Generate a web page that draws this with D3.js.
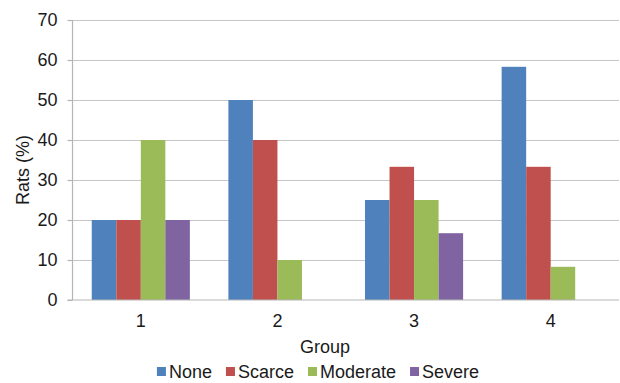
<!DOCTYPE html>
<html>
<head>
<meta charset="utf-8">
<script src="https://cdn.jsdelivr.net/npm/d3@7"></script>
<style>
  body { margin: 0; background: #fff; }
  svg { display: block; font-family: "Liberation Sans", Arial, Helvetica, sans-serif; }
</style>
</head>
<body>
<svg id="chart" width="620" height="383"></svg>
<script>
const groups = ["1", "2", "3", "4"];
const seriesNames = ["None", "Scarce", "Moderate", "Severe"];
const seriesColors = ["#4f81bd", "#c0504d", "#9bbb59", "#8064a2"];
const noneVals = [20, 50, 25, 58.3];
const scarceVals = [20, 40, 33.3, 33.3];
const moderateVals = [40, 10, 25, 8.3];
const severeVals = [20, 0, 16.7, 0];
const yTicks = [0, 10, 20, 30, 40, 50, 60, 70];
const xTitle = "Group";
const yTitle = "Rats (%)";

(function () {
const seriesValues = [noneVals, scarceVals, moderateVals, severeVals];
const data = groups.map((g, i) => ({
  group: g,
  values: seriesNames.map((s, j) => ({ series: s, value: seriesValues[j][i], color: seriesColors[j] }))
}));

const svg = d3.select("#chart");
const mLeft = 72.5, mRight = 619, mTop = 20, mBottom = 300;
const fs = 18, txt = "#1a1a1a";

const x = d3.scaleBand().domain(groups).range([mLeft, mRight]).paddingInner(0.282).paddingOuter(0.141);
const xs = d3.scaleBand().domain(seriesNames).range([0, x.bandwidth()]);
const y = d3.scaleLinear().domain([0, 70]).range([mBottom, mTop]);

// gridlines
svg.append("g").selectAll("line").data(yTicks.filter(d => d > 0)).join("line")
  .attr("x1", mLeft).attr("x2", mRight)
  .attr("y1", d => Math.round(y(d)) + 0.5).attr("y2", d => Math.round(y(d)) + 0.5)
  .attr("stroke", "#c6c6c6").attr("stroke-width", 1.2);

// bars
const gGroups = svg.append("g").selectAll("g").data(data).join("g")
  .attr("transform", d => `translate(${x(d.group)},0)`);
gGroups.selectAll("rect").data(d => d.values.filter(v => v.value > 0)).join("rect")
  .attr("x", d => xs(d.series))
  .attr("width", xs.bandwidth())
  .attr("y", d => y(d.value))
  .attr("height", d => y(0) - y(d.value))
  .attr("fill", d => d.color);

// y axis
const yAxis = d3.axisLeft(y).tickValues(yTicks).tickSize(5).tickPadding(10);
const ya = svg.append("g").attr("transform", `translate(${mLeft},0)`).call(yAxis);
ya.select(".domain").attr("stroke", "#b5b5b5").attr("stroke-width", 1.2).attr("d", `M0,${mTop}V${mBottom}`);
ya.selectAll(".tick line").attr("stroke", "#b5b5b5").attr("stroke-width", 1.2);
ya.selectAll(".tick text").attr("font-size", fs).attr("fill", txt).attr("font-family", "Liberation Sans, Arial, sans-serif");

// x axis
const xAxis = d3.axisBottom(x).tickSize(0).tickPadding(14);
const xa = svg.append("g").attr("transform", `translate(0,${mBottom})`).call(xAxis);
xa.select(".domain").attr("stroke", "#b5b5b5").attr("stroke-width", 1.2).attr("d", `M${mLeft - 5},0H${mRight}`);
xa.selectAll(".tick text").attr("font-size", fs).attr("fill", txt).attr("font-family", "Liberation Sans, Arial, sans-serif");

// axis titles
svg.append("text").attr("x", 325).attr("y", 353).attr("text-anchor", "middle")
  .attr("font-size", fs).attr("fill", txt).text(xTitle);
svg.append("text").attr("transform", "translate(29,170) rotate(-90)").attr("text-anchor", "middle")
  .attr("font-size", fs).attr("fill", txt).text(yTitle);

// legend
const legend = svg.append("g");
let cx = 0;
seriesNames.forEach((s, i) => {
  const item = legend.append("g").attr("transform", `translate(${cx},0)`);
  item.append("rect").attr("x", 0).attr("y", -5).attr("width", 9).attr("height", 9).attr("fill", seriesColors[i]);
  const t = item.append("text").attr("x", 12).attr("y", 6).attr("font-size", fs).attr("fill", txt).text(s);
  cx += 12 + t.node().getComputedTextLength() + 14;
});
const legendWidth = cx - 14;
legend.attr("transform", `translate(${318 - legendWidth / 2},372)`);
})();
</script>
</body>
</html>
